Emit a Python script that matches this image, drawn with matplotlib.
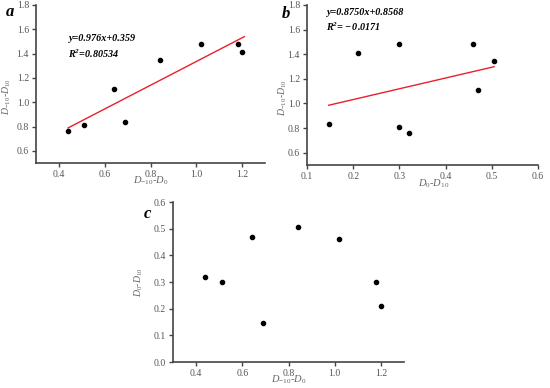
import numpy as np
import matplotlib
matplotlib.use("Agg")
import matplotlib.pyplot as plt

plt.rcParams['font.family'] = ['Liberation Serif', 'DejaVu Serif']
plt.rcParams['mathtext.fontset'] = 'custom'
plt.rcParams['mathtext.rm'] = 'Liberation Serif'
plt.rcParams['mathtext.it'] = 'Liberation Serif:italic'
plt.rcParams['mathtext.bf'] = 'Liberation Serif:bold'
plt.rcParams['mathtext.bfit'] = 'Liberation Serif:bold:italic'

# Data
d_m10_d0 = [0.44, 0.51, 0.64, 0.69, 0.84, 1.02, 1.18, 1.20]      # D-10 - D0
d_m10_d10 = [0.76, 0.81, 1.11, 0.835, 1.345, 1.48, 1.48, 1.41]   # D-10 - D10
d0_d10 = [0.32, 0.30, 0.47, 0.147, 0.505, 0.46, 0.30, 0.21]      # D0 - D10

fit_a = (0.976, 0.359)
fit_b = (0.8750, 0.8568)
eq_a = ["y=0.976x+0.359", r"$\mathbfit{R^{2}\!=\!0.80534}$"]
eq_b = ["y=0.8750x+0.8568", r"$\mathbfit{R^{2}\!=\!-0.0171}$"]

xt_a = [0.4, 0.6, 0.8, 1.0, 1.2]
yt_a = [0.6, 0.8, 1.0, 1.2, 1.4, 1.6, 1.8]
xt_b = [0.1, 0.2, 0.3, 0.4, 0.5, 0.6]
yt_c = [0.0, 0.1, 0.2, 0.3, 0.4, 0.5, 0.6]

W, H = 550, 388
fig = plt.figure(figsize=(5.5, 3.88), dpi=100)

def box(l, t, r, b):
    return [l / W, 1 - b / H, (r - l) / W, (b - t) / H]

axc = '#444444'
lblc = '#666666'

def style(ax, xlim, ylim, xt, yt):
    ax.set_xlim(*xlim)
    ax.set_ylim(*ylim)
    ax.set_xticks(xt)
    ax.set_yticks(yt)
    ax.set_xticklabels([f"{v:.1f}" for v in xt])
    ax.set_yticklabels([f"{v:.1f}" for v in yt])
    for s in ['top', 'right']:
        ax.spines[s].set_visible(False)
    for s in ['left', 'bottom']:
        ax.spines[s].set_color(axc)
        ax.spines[s].set_linewidth(1.2)
    ax.tick_params(direction='out', length=3, width=1, colors=axc,
                   labelsize=7, labelcolor='#555555', pad=2)

def xl(ax, txt, x, y):
    ax.set_xlabel(txt, fontsize=7.5, color=lblc)
    ax.xaxis.set_label_coords(x, y)

def yl(ax, txt, x, y):
    ax.set_ylabel(txt, fontsize=7, color=lblc)
    ax.yaxis.set_label_coords(x, y)

eqkw = dict(fontsize=7.3, va='center')

# Panel a
ax = fig.add_axes(box(36, 5, 265, 163))
style(ax, (0.3, 1.3), (0.5, 1.8), xt_a, yt_a)
ax.scatter(d_m10_d0, d_m10_d10, s=9, color='black', zorder=3)
xs = np.array([min(d_m10_d0), max(d_m10_d0) + 0.01])
ax.plot(xs, fit_a[0] * xs + fit_a[1], color='#e8202a', lw=1)
ax.text(0.14, 0.785, eq_a[0], transform=ax.transAxes,
        fontweight='bold', fontstyle='italic', **eqkw)
ax.text(0.14, 0.69, eq_a[1], transform=ax.transAxes, **eqkw)
xl(ax, r"$D_{-10}$-$D_{0}$", 0.5, -0.07)
yl(ax, r"$D_{-10}$-$D_{10}$", -0.10, 0.42)
fig.text(10 / W, 1 - 12 / H, 'a', fontsize=12, fontweight='bold',
         fontstyle='italic', ha='center', va='center')

# Panel b
ax = fig.add_axes(box(307, 5, 538, 165))
style(ax, (0.1, 0.6), (0.5, 1.8), xt_b, yt_a)
ax.scatter(d0_d10, d_m10_d10, s=9, color='black', zorder=3)
xs = np.array([min(d0_d10), max(d0_d10)])
ax.plot(xs, fit_b[0] * xs + fit_b[1], color='#e8202a', lw=1)
ax.text(0.082, 0.956, eq_b[0], transform=ax.transAxes,
        fontweight='bold', fontstyle='italic', **eqkw)
ax.text(0.082, 0.866, eq_b[1], transform=ax.transAxes, **eqkw)
xl(ax, r"$D_{0}$-$D_{10}$", 0.55, -0.08)
yl(ax, r"$D_{-10}$-$D_{10}$", -0.08, 0.42)
fig.text(286 / W, 1 - 14 / H, 'b', fontsize=12, fontweight='bold',
         fontstyle='italic', ha='center', va='center')

# Panel c
ax = fig.add_axes(box(173, 202, 404, 362))
style(ax, (0.3, 1.3), (0.0, 0.6), xt_a, yt_c)
ax.scatter(d_m10_d0, d0_d10, s=9, color='black', zorder=3)
xl(ax, r"$D_{-10}$-$D_{0}$", 0.5, -0.07)
yl(ax, r"$D_{0}$-$D_{10}$", -0.12, 0.5)
fig.text(147 / W, 1 - 214 / H, 'c', fontsize=12, fontweight='bold',
         fontstyle='italic', ha='center', va='center')

fig.savefig('out.png', dpi=100)
